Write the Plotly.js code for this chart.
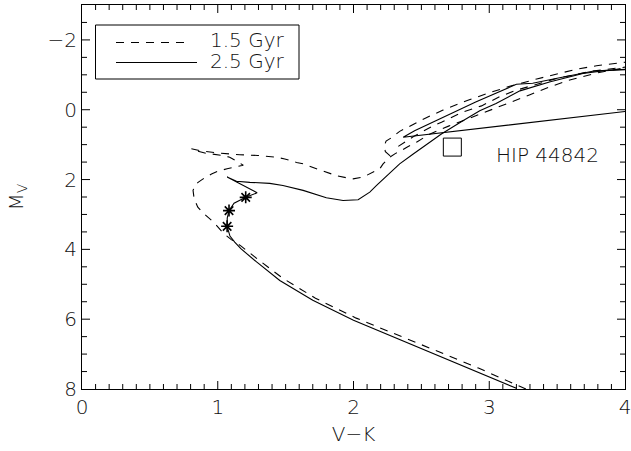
<!DOCTYPE html>
<html>
<head>
<meta charset="utf-8">
<script src="https://cdn.plot.ly/plotly-3.0.1.min.js"></script>
<style>html,body{margin:0;padding:0;background:#fff;}#plot{width:631px;height:451px;}</style>
</head>
<body>
<div id="plot"></div>
<script>
// ---- 1.5 Gyr isochrone (dashed) ----
var iso15_x = [3.27, 2.92, 2.62, 2.32, 2.02, 1.72, 1.48, 1.30, 1.17, 1.10, 1.045, 0.97, 0.934, 0.89, 0.853, 0.826, 0.818, 0.835, 0.855, 0.892, 0.954, 1.002, 1.069, 1.113, 1.188, 1.142, 1.088, 1.037, 0.978, 0.917, 0.855, 0.806, 0.867, 0.978, 1.162, 1.295, 1.433, 1.494, 1.58, 1.629, 1.727, 1.776, 1.875, 1.948, 1.997, 2.071, 2.12, 2.194, 2.218, 2.267, 2.31, 2.354, 2.39, 2.43, 2.464, 2.56, 2.70, 2.83, 2.98, 3.13, 3.30, 3.45, 3.60, 3.80, 4.00];
var iso15_y = [8.00, 7.40, 6.92, 6.44, 5.97, 5.40, 4.83, 4.30, 3.90, 3.72, 3.55, 3.22, 3.11, 2.95, 2.79, 2.55, 2.31, 2.15, 2.08, 1.98, 1.84, 1.76, 1.69, 1.65, 1.59, 1.48, 1.36, 1.31, 1.29, 1.25, 1.19, 1.12, 1.17, 1.23, 1.29, 1.31, 1.36, 1.41, 1.51, 1.55, 1.69, 1.76, 1.89, 1.95, 1.98, 1.93, 1.84, 1.69, 1.55, 1.36, 1.25, 1.17, 1.08, 1.00, 0.93, 0.70, 0.47, 0.28, 0.06, -0.16, -0.43, -0.66, -0.86, -1.06, -1.20];
// helium-burning hook and upper branches of the 1.5 Gyr isochrone
var hb15_x = [2.27, 2.235, 2.225, 2.24, 2.28, 2.34, 2.45, 2.54, 2.66, 2.833, 3.004, 3.15, 3.35, 3.496, 3.643, 3.79, 4.00];
var hb15_y = [1.32, 1.20, 1.05, 0.90, 0.80, 0.62, 0.40, 0.22, 0.01, -0.26, -0.49, -0.67, -0.88, -1.02, -1.16, -1.26, -1.36];
var agb15_x = [2.33, 2.45, 2.587, 2.648, 2.796, 2.943, 3.08, 3.20, 3.50, 3.75, 4.00];
var agb15_y = [1.05, 0.75, 0.46, 0.36, 0.08, -0.11, -0.38, -0.56, -0.90, -1.10, -1.22];

// ---- 2.5 Gyr isochrone (solid) ----
var iso25_x = [3.20, 2.88, 2.59, 2.29, 2.00, 1.70, 1.457, 1.286, 1.17, 1.125, 1.09, 1.069, 1.07, 1.083, 1.12, 1.206, 1.29, 1.069, 1.138, 1.236, 1.383, 1.48, 1.629, 1.80, 1.923, 2.034, 2.12, 2.17, 2.243, 2.34, 2.44, 2.55, 2.65, 2.80, 2.93, 3.05, 3.226, 3.45, 3.69, 3.85, 4.00];
var iso25_y = [7.98, 7.46, 6.98, 6.51, 6.03, 5.46, 4.89, 4.36, 3.98, 3.79, 3.62, 3.34, 3.10, 2.89, 2.68, 2.51, 2.38, 1.93, 2.05, 2.08, 2.11, 2.17, 2.31, 2.52, 2.60, 2.58, 2.36, 2.17, 1.91, 1.55, 1.27, 0.96, 0.69, 0.33, 0.03, -0.18, -0.54, -0.80, -1.04, -1.12, -1.15];
var hb25_x = [4.00, 2.366, 2.45, 2.66, 2.90, 3.20, 3.32, 3.50, 3.65, 3.77, 4.00];
var hb25_y = [0.05, 0.79, 0.60, 0.22, -0.22, -0.73, -0.76, -0.90, -1.02, -1.11, -1.16];

// marked points on the 2.5 Gyr isochrone
var star_x = [1.069, 1.083, 1.206];
var star_y = [3.34, 2.89, 2.51];
// HIP 44842
var hip_x = [2.728];
var hip_y = [1.07];
var hip_label = 'HIP 44842';
var legend_labels = ['1.5 Gyr', '2.5 Gyr'];

// axis ranges and tick spacing
var x_range = [0, 4], x_major = 1, x_minor = 0.1;
var y_range = [8, -3], y_major = 2, y_minor = 0.5;

var FONT = '"DejaVu Sans", "Liberation Sans", sans-serif';
var TXT = {family: FONT, size: 20, color: '#111', weight: 200};
var dashStyle = '8px,7px';
var LW = 1.1;

// plot area in pixels
var M = {l: 82, r: 6, t: 5, b: 62};
var PW = 631 - M.l - M.r, PH = 451 - M.t - M.b;
function px(x) { return (x - M.l) / PW; }
function py(y) { return (451 - M.b - y) / PH; }

// inside ticks on all four sides, built as one line trace (null-separated segments)
function tickTrace() {
  var tx = [], ty = [];
  var xspan = Math.abs(x_range[1] - x_range[0]), yspan = Math.abs(y_range[1] - y_range[0]);
  var xlo = Math.min(x_range[0], x_range[1]), xhi = Math.max(x_range[0], x_range[1]);
  var ylo = Math.min(y_range[0], y_range[1]), yhi = Math.max(y_range[0], y_range[1]);
  // y axis reversed: bottom edge is yhi, top edge is ylo
  var nx = Math.round((xhi - xlo) / x_minor);
  for (var i = 1; i < nx; i++) {
    var v = xlo + i * x_minor;
    var r = Math.abs(v / x_major - Math.round(v / x_major));
    var d = (r < 1e-6 ? 8 : 5) / PH * yspan;
    tx.push(v, v, null, v, v, null);
    ty.push(yhi, yhi - d, null, ylo, ylo + d, null);
  }
  var ny = Math.round((yhi - ylo) / y_minor);
  for (var j = 1; j < ny; j++) {
    var w = ylo + j * y_minor;
    var q = Math.abs(w / y_major - Math.round(w / y_major));
    var e = (q < 1e-6 ? 8 : 5) / PW * xspan;
    tx.push(xlo, xlo + e, null, xhi, xhi - e, null);
    ty.push(w, w, null, w, w, null);
  }
  return {x: tx, y: ty, mode: 'lines', showlegend: false, hoverinfo: 'skip', connectgaps: false,
          line: {color: '#000', width: 1}};
}

var traces = [
  tickTrace(),
  {x: iso15_x, y: iso15_y, mode: 'lines', showlegend: false, line: {color: '#000', width: LW, dash: dashStyle}},
  {x: hb15_x, y: hb15_y, mode: 'lines', showlegend: false, line: {color: '#000', width: LW, dash: dashStyle}},
  {x: agb15_x, y: agb15_y, mode: 'lines', showlegend: false, line: {color: '#000', width: LW, dash: dashStyle}},
  {x: iso25_x, y: iso25_y, mode: 'lines', showlegend: false, line: {color: '#000', width: LW}},
  {x: hb25_x, y: hb25_y, mode: 'lines', showlegend: false, line: {color: '#000', width: LW}},
  {x: star_x, y: star_y, mode: 'markers', showlegend: false,
   marker: {symbol: 'asterisk-open', size: 10, color: '#000', line: {color: '#000', width: 1.6}}},
  {x: hip_x, y: hip_y, mode: 'markers', showlegend: false,
   marker: {symbol: 'square-open', size: 18, color: '#000', line: {color: '#000', width: 1}}}
];

var layout = {
  width: 631, height: 451,
  margin: {l: M.l, r: M.r, t: M.t, b: M.b},
  paper_bgcolor: '#fff', plot_bgcolor: '#fff',
  font: TXT,
  showlegend: false,
  xaxis: {range: x_range, dtick: x_major, tick0: 0, ticks: '',
          showline: true, linecolor: '#000', linewidth: 1, mirror: true, showgrid: false, zeroline: false,
          ticklabeloverflow: 'allow', automargin: false,
          title: {text: 'V−K', standoff: 8, font: TXT}, tickfont: TXT},
  yaxis: {range: y_range, dtick: y_major, tick0: 0, ticks: '',
          showline: true, linecolor: '#000', linewidth: 1, mirror: true, showgrid: false, zeroline: false,
          ticklabeloverflow: 'allow', automargin: false,
          title: {text: 'M<sub>V</sub>', standoff: 18, font: TXT}, tickfont: TXT},
  shapes: [
    {type: 'rect', xref: 'paper', yref: 'paper', x0: px(95.5), x1: px(299), y0: py(79), y1: py(25),
     line: {color: '#000', width: 1}, fillcolor: '#fff', layer: 'above'},
    {type: 'line', xref: 'paper', yref: 'paper', x0: px(116), x1: px(190), y0: py(42.5), y1: py(42.5),
     line: {color: '#000', width: LW, dash: dashStyle}, layer: 'above'},
    {type: 'line', xref: 'paper', yref: 'paper', x0: px(116), x1: px(197), y0: py(62.5), y1: py(62.5),
     line: {color: '#000', width: LW}, layer: 'above'}
  ],
  annotations: [
    {x: 3.428, y: 1.31, xref: 'x', yref: 'y', text: hip_label, showarrow: false, font: TXT},
    {x: px(208), y: py(40), xref: 'paper', yref: 'paper', xanchor: 'left', yanchor: 'middle',
     text: legend_labels[0], showarrow: false, font: TXT},
    {x: px(208), y: py(61.5), xref: 'paper', yref: 'paper', xanchor: 'left', yanchor: 'middle',
     text: legend_labels[1], showarrow: false, font: TXT}
  ]
};

Plotly.newPlot('plot', traces, layout, {displayModeBar: false, staticPlot: true});
</script>
</body>
</html>
